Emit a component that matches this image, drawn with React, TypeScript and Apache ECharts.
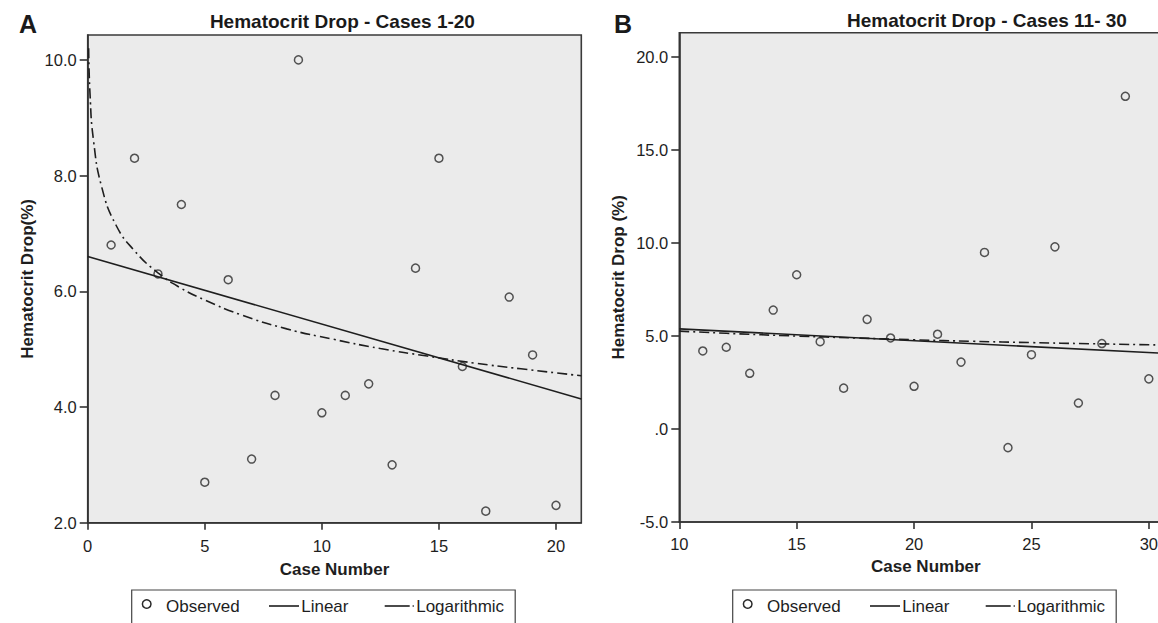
import React, { useEffect, useRef } from 'react';
import * as echarts from 'echarts';

// ---------- data ----------
const casesA = [1, 2, 3, 4, 5, 6, 7, 8, 9, 10, 11, 12, 13, 14, 15, 16, 17, 18, 19, 20];
const dropA = [6.8, 8.3, 6.3, 7.5, 2.7, 6.2, 3.1, 4.2, 10.0, 3.9, 4.2, 4.4, 3.0, 6.4, 8.3, 4.7, 2.2, 5.9, 4.9, 2.3];
const linearAX = [0, 21.08];
const linearAY = [6.6, 4.14];
const logAX = [0.04, 0.1, 0.25, 0.6, 1.2, 2, 3, 4, 5, 6.5, 8.5, 10.5, 12.5, 14.5, 16.5, 18.5, 21.08];
const logAY = [10.2, 9.4, 8.6, 7.8, 7.15, 6.7, 6.32, 6.05, 5.85, 5.6, 5.35, 5.17, 5.01, 4.88, 4.76, 4.66, 4.54];

const casesB = [11, 12, 13, 14, 15, 16, 17, 18, 19, 20, 21, 22, 23, 24, 25, 26, 27, 28, 29, 30];
const dropB = [4.2, 4.4, 3.0, 6.4, 8.3, 4.7, 2.2, 5.9, 4.9, 2.3, 5.1, 3.6, 9.5, -1.0, 4.0, 9.8, 1.4, 4.6, 17.9, 2.7];
const linearBX = [10, 31];
const linearBY = [5.39, 4.05];
const logBX = [10, 12, 15, 17.5, 20, 22.5, 25, 27.5, 31];
const logBY = [5.27, 5.15, 5.0, 4.9, 4.8, 4.72, 4.65, 4.59, 4.51];

const xTicksA = [0, 5, 10, 15, 20];
const yTicksA = [2, 4, 6, 8, 10];
const xTicksB = [10, 15, 20, 25, 30];
const yTicksB = [-5, 0, 5, 10, 15, 20];

const titleA = 'Hematocrit Drop - Cases 1-20';
const titleB = 'Hematocrit Drop - Cases 11- 30';
const yNameA = 'Hematocrit Drop(%)';
const yNameB = 'Hematocrit Drop (%)';
const xName = 'Case Number';
const legendNames = ['Observed', 'Linear', 'Logarithmic'];

// ---------- styling ----------
const FONT = '"Liberation Sans", Arial, Helvetica, sans-serif';
const INK = '#1e1e1e';
const AXIS = '#333';
const DASHDOT = [10, 4, 2, 4];

const pairs = (xs: number[], ys: number[]) => xs.map((x, i) => [x, ys[i]]);

function xAxis(gridIndex: number, min: number, max: number, ticks: number[], nameGap: number, margin: number) {
  return {
    type: 'value',
    gridIndex,
    min,
    max,
    name: xName,
    nameLocation: 'middle',
    nameGap,
    nameTextStyle: { fontFamily: FONT, fontSize: 17, fontWeight: 'bold', color: INK },
    axisLine: { show: true, onZero: false, lineStyle: { color: AXIS, width: 1.6 } },
    axisTick: { show: true, inside: false, length: 7, customValues: ticks, lineStyle: { color: AXIS, width: 1.6 } },
    axisLabel: { customValues: ticks, margin, fontFamily: FONT, fontSize: 16.5, color: INK },
    splitLine: { show: false },
  };
}

function yAxis(gridIndex: number, min: number, max: number, ticks: number[], name: string) {
  return {
    type: 'value',
    gridIndex,
    min,
    max,
    name,
    nameLocation: 'middle',
    nameGap: 52,
    nameTextStyle: { fontFamily: FONT, fontSize: 17, fontWeight: 'bold', color: INK },
    axisLine: { show: true, onZero: false, lineStyle: { color: AXIS, width: 1.6 } },
    axisTick: { show: true, inside: false, length: 8, customValues: ticks, lineStyle: { color: AXIS, width: 1.6 } },
    axisLabel: {
      customValues: ticks,
      margin: 11,
      fontFamily: FONT,
      fontSize: 16.5,
      color: INK,
      formatter: (v: number) => (v === 0 ? '.0' : v.toFixed(1)),
    },
    splitLine: { show: false },
  };
}

function seriesFor(idx: number, xs: number[], ys: number[], lx: number[], ly: number[], gx: number[], gy: number[]) {
  return [
    {
      type: 'scatter',
      name: legendNames[0],
      xAxisIndex: idx,
      yAxisIndex: idx,
      data: pairs(xs, ys),
      symbol: 'circle',
      symbolSize: 8,
      itemStyle: { color: 'transparent', borderColor: '#2a2a2a', borderWidth: 1.5 },
      z: 3,
    },
    {
      type: 'line',
      name: legendNames[1],
      xAxisIndex: idx,
      yAxisIndex: idx,
      data: pairs(lx, ly),
      symbol: 'none',
      showSymbol: false,
      lineStyle: { color: INK, width: 1.6 },
      z: 4,
    },
    {
      type: 'line',
      name: legendNames[2],
      xAxisIndex: idx,
      yAxisIndex: idx,
      data: pairs(gx, gy),
      symbol: 'none',
      showSymbol: false,
      smooth: 0.5,
      lineStyle: { color: INK, width: 1.6, type: DASHDOT },
      z: 4,
    },
  ];
}

function txt(x: number, y: number, text: string, size: number, weight = 'normal') {
  return {
    type: 'text',
    x,
    y,
    style: {
      text,
      fill: INK,
      fontFamily: FONT,
      fontSize: size,
      fontWeight: weight,
      align: 'left',
      verticalAlign: 'middle',
      textAlign: 'left',
      textVerticalAlign: 'middle',
    },
  };
}

function legendGraphic(left: number) {
  const cy = 606;
  return [
    { type: 'rect', shape: { x: left, y: 590, width: 383.5, height: 60 }, style: { fill: '#fff', stroke: '#444', lineWidth: 1.2 } },
    { type: 'circle', shape: { cx: left + 15, cy: 604, r: 4.3 }, style: { fill: 'none', stroke: '#2a2a2a', lineWidth: 1.5 } },
    txt(left + 34.3, cy, legendNames[0], 17),
    { type: 'line', shape: { x1: left + 137.3, y1: cy, x2: left + 167.3, y2: cy }, style: { stroke: INK, lineWidth: 1.6 } },
    txt(left + 169.5, cy, legendNames[1], 17),
    { type: 'line', shape: { x1: left + 253, y1: cy, x2: left + 278, y2: cy }, style: { stroke: INK, lineWidth: 1.6 } },
    { type: 'circle', shape: { cx: left + 281.5, cy, r: 0.8 }, style: { fill: '#555' } },
    txt(left + 284.5, cy, legendNames[2], 17),
  ];
}

const titleStyle = (size: number) => ({ fontFamily: FONT, fontSize: size, fontWeight: 'bold', color: '#1a1a1a', lineHeight: size });

const option = {
  animation: false,
  backgroundColor: '#ffffff',
  title: [
    { text: 'A', left: 19, top: 11.5, padding: 0, textStyle: titleStyle(25) },
    { text: 'B', left: 614, top: 11.5, padding: 0, textStyle: titleStyle(25) },
    { text: titleA, left: 342.4, top: 12, padding: 0, textAlign: 'center', textStyle: titleStyle(19) },
    { text: titleB, left: 987, top: 11.2, padding: 0, textAlign: 'center', textStyle: titleStyle(19) },
  ],
  grid: [
    {
      left: 87.7, top: 35, width: 493.6, height: 487.7,
      show: true, backgroundColor: '#ebebeb', borderColor: '#3a3a3a', borderWidth: 1.6,
      containLabel: false, outerBoundsMode: 'none',
    },
    {
      left: 679.3, top: 32.7, width: 493, height: 489.3,
      show: true, backgroundColor: '#ebebeb', borderColor: '#3a3a3a', borderWidth: 1.6,
      containLabel: false, outerBoundsMode: 'none',
    },
  ],
  xAxis: [
    xAxis(0, 0, 21.08, xTicksA, 38, 15),
    xAxis(1, 10, 31, xTicksB, 35.5, 13),
  ],
  yAxis: [
    yAxis(0, 2, 10.43, yTicksA, yNameA),
    yAxis(1, -5, 21.32, yTicksB, yNameB),
  ],
  series: [
    ...seriesFor(0, casesA, dropA, linearAX, linearAY, logAX, logAY),
    ...seriesFor(1, casesB, dropB, linearBX, linearBY, logBX, logBY),
  ],
  graphic: [...legendGraphic(131.7), ...legendGraphic(732.7)],
};

export default function App() {
  const ref = useRef<HTMLDivElement>(null);
  useEffect(() => {
    if (!ref.current) return;
    const chart = echarts.init(ref.current, null, { renderer: 'svg' });
    chart.setOption(option as any);
    return () => chart.dispose();
  }, []);
  return (
    <div style={{ position: 'fixed', left: 0, top: 0, width: 1158, height: 623, overflow: 'hidden', background: '#fff' }}>
      <div ref={ref} style={{ width: 1180, height: 623 }} />
    </div>
  );
}
